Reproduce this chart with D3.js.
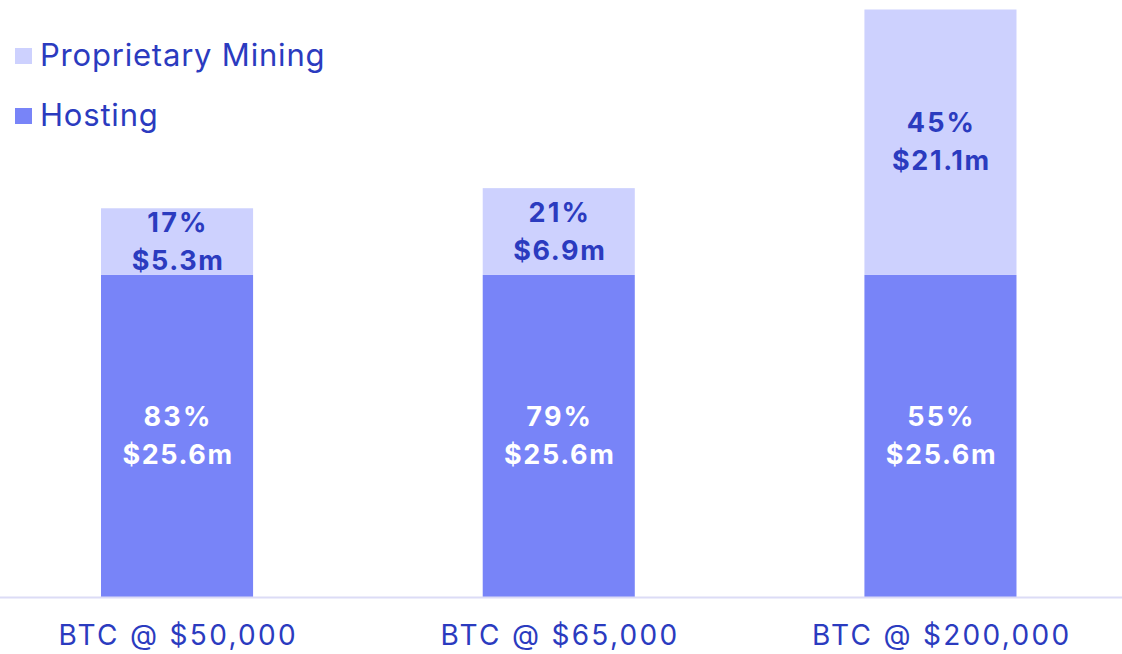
<!DOCTYPE html>
<html><head><meta charset="utf-8">
<script src="https://cdn.jsdelivr.net/npm/d3@7"></script>
<style>html,body{margin:0;padding:0;background:#fff;}svg{display:block;}</style>
</head><body>
<svg id="c" width="1122" height="654"></svg>
<script>
const categories = ["BTC @ $50,000", "BTC @ $65,000", "BTC @ $200,000"];
const hosting = [25.6, 25.6, 25.6];
const proprietary = [5.3, 6.9, 21.1];
const hostingPct = ["83%", "79%", "55%"];
const proprietaryPct = ["17%", "21%", "45%"];
const seriesNames = ["Proprietary Mining", "Hosting"];

const colHost = "#7884f8", colProp = "#cdd1fe", colText = "#2b3bbf", colAxis = "#dcdcf6";
const FONT = "Inter, 'Open Sans', sans-serif";

const svg = d3.select("#c");
const baseY = 597;
const x = d3.scaleBand().domain(categories).range([-13.5, 1131]).paddingInner(0.6016).paddingOuter(0.3);
const y = d3.scaleLinear().domain([0, 46.7]).range([baseY, 9.5]);

const data = categories.map((c, i) => ({c, h: hosting[i], p: proprietary[i], hp: hostingPct[i], pp: proprietaryPct[i]}));

// bars
const g = svg.append("g");
g.selectAll(".h").data(data).join("rect")
  .attr("x", d => x(d.c)).attr("width", x.bandwidth())
  .attr("y", d => y(d.h)).attr("height", d => y(0) - y(d.h)).attr("fill", colHost);
g.selectAll(".p").data(data).join("rect")
  .attr("x", d => x(d.c)).attr("width", x.bandwidth())
  .attr("y", d => y(d.h + d.p)).attr("height", d => y(d.h) - y(d.h + d.p)).attr("fill", colProp);

// axis
const axis = svg.append("g").attr("transform", `translate(0,${baseY})`)
  .call(d3.axisBottom(x).tickSize(0).tickPadding(26));
axis.select(".domain").attr("d", "M0,0.5H1122").attr("stroke", colAxis).attr("stroke-width", 2);
axis.selectAll("text").attr("font-family", FONT).attr("font-size", 28).attr("fill", colText)
  .attr("letter-spacing", 2.3).attr("dx", 1.2).attr("dy", "0.71em").attr("y", 28);

// labels
function labels(ctr, pct, val, color) {
  const t = svg.append("g").selectAll("g").data(data).join("g")
    .attr("transform", d => `translate(${x(d.c) + x.bandwidth() / 2 + 1},${ctr(d)})`);
  t.append("text").attr("text-anchor", "middle").attr("y", -10).text(pct)
    .attr("font-family", FONT).attr("font-weight", 700).attr("font-size", 27).attr("letter-spacing", 2.2).attr("fill", color);
  t.append("text").attr("text-anchor", "middle").attr("y", 28).text(val)
    .attr("font-family", FONT).attr("font-weight", 700).attr("font-size", 27).attr("letter-spacing", 1.6).attr("fill", color);
}
labels(d => (y(0) + y(d.h)) / 2, d => d.hp, d => "$" + d.h + "m", "#ffffff");
labels(d => (y(d.h) + y(d.h + d.p)) / 2, d => d.pp, d => "$" + d.p + "m", colText);

// legend
const leg = svg.append("g");
const legColors = [colProp, colHost];
seriesNames.forEach((n, i) => {
  const yy = 48 + i * 60;
  leg.append("rect").attr("x", 15).attr("y", yy).attr("width", 17).attr("height", 16).attr("fill", legColors[i]);
  leg.append("text").attr("x", 40).attr("y", yy + 18).text(n)
    .attr("font-family", FONT).attr("font-size", 31).attr("letter-spacing", 0.8).attr("fill", colText);
});
</script>
</body></html>
